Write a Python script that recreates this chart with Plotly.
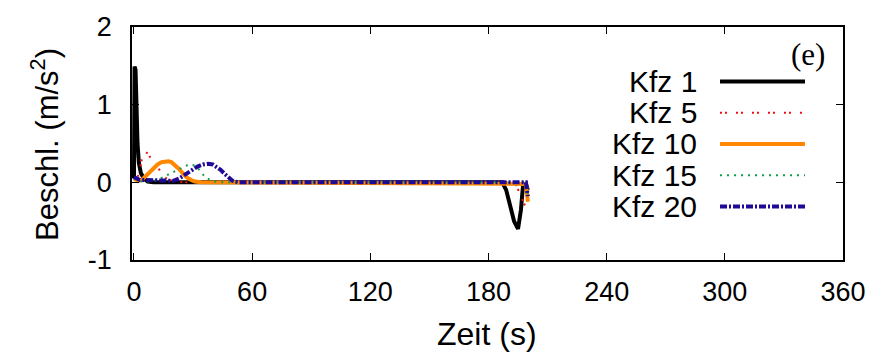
import plotly.graph_objects as go

# ---- data ----
t_kfz1 = [0, 0.3, 0.8, 1.3, 1.8, 2.5, 3.5, 5, 7, 10, 187, 189, 191, 193, 195, 196.5, 197.5, 199, 200]
a_kfz1 = [0.05, 1.49, 1.45, 0.9, 0.5, 0.25, 0.12, 0.05, 0.01, 0.0, 0.0, -0.1, -0.3, -0.5, -0.6, -0.35, -0.05, -0.02, -0.1]

t_kfz5 = [0, 1, 2, 3, 4, 5, 6, 7, 8, 9.5, 11.5, 13, 14.6, 17, 21, 25, 192, 194, 196, 197, 199, 200]
a_kfz5 = [0.05, 0.04, 0.08, 0.17, 0.3, 0.37, 0.39, 0.37, 0.33, 0.29, 0.22, 0.15, 0.09, 0.04, 0.01, 0.0, 0.0, -0.03, -0.15, -0.22, -0.33, -0.33]

t_kfz10 = [0, 2, 4, 6, 8, 10, 12, 14, 16, 17.5, 19, 21, 23, 25, 27, 29, 31, 34, 199, 200]
a_kfz10 = [0.05, 0.02, 0.03, 0.08, 0.14, 0.19, 0.23, 0.26, 0.27, 0.27, 0.26, 0.22, 0.17, 0.11, 0.06, 0.03, 0.01, 0.0, -0.02, -0.25]

t_kfz15 = [0, 4, 8, 12, 15, 18, 21, 24, 27, 29, 31.5, 33.5, 35.7, 38, 41, 45, 199, 200]
a_kfz15 = [0.05, 0.01, 0.01, 0.03, 0.07, 0.11, 0.15, 0.19, 0.22, 0.23, 0.21, 0.15, 0.08, 0.04, 0.01, 0.0, 0.0, -0.15]

t_kfz20 = [0, 3, 6, 10, 15, 20, 23, 26, 29, 32, 35, 37.7, 40, 42, 44, 46, 48, 50, 53, 199, 200]
a_kfz20 = [0.07, 0.03, 0.03, 0.03, 0.02, 0.02, 0.05, 0.1, 0.15, 0.2, 0.23, 0.24, 0.23, 0.2, 0.16, 0.11, 0.06, 0.02, 0.0, 0.0, -0.18]

series_names = ["Kfz 1", "Kfz 5", "Kfz 10", "Kfz 15", "Kfz 20"]
x_ticks = [0, 60, 120, 180, 240, 300, 360]
y_ticks = [-1, 0, 1, 2]

# ---- styles ----
styles = [
    dict(color="#000000", width=4, dash="solid"),
    dict(color="#ee1111", width=2, dash="2px,3px,2px,9px"),
    dict(color="#ff8800", width=4, dash="solid"),
    dict(color="#12a04a", width=2, dash="2px,5px"),
    dict(color="#1e0a96", width=4, dash="7px,2px,2px,2px"),
]
series_t = [t_kfz1, t_kfz5, t_kfz10, t_kfz15, t_kfz20]
series_a = [a_kfz1, a_kfz5, a_kfz10, a_kfz15, a_kfz20]

FONT = "Liberation Sans, Arial, sans-serif"

fig = go.Figure()
for name, tt, aa, st in zip(series_names, series_t, series_a, styles):
    fig.add_trace(go.Scatter(x=tt, y=aa, mode="lines", name=name, line=st,
                             showlegend=False))

# plot area in pixels
L, R, T, B = 132, 843, 21, 260
W, H = 881, 356
def px(xp):
    return (xp - L) / (R - L)
def py(yp):
    return (B - yp) / (B - T)

# manual legend (text right, sample on the right side)
rows = [77, 109, 141, 173, 205]
for name, st, yr in zip(series_names, styles, rows):
    fig.add_annotation(x=px(699), y=py(yr), xref="paper", yref="paper",
                       text=name, showarrow=False, xanchor="right", yanchor="middle",
                       font=dict(family=FONT, size=30, color="black"))
    fig.add_shape(type="line", xref="paper", yref="paper",
                  x0=px(720), x1=px(805), y0=py(yr), y1=py(yr),
                  line=dict(color=st["color"], width=st["width"], dash=st["dash"]))

fig.add_annotation(x=px(808), y=py(49), xref="paper", yref="paper", text="(e)",
                   showarrow=False, xanchor="center", yanchor="middle",
                   font=dict(family="Liberation Serif, Times New Roman, serif", size=31, color="black"))

# axis titles
fig.add_annotation(x=px(487), y=py(336), xref="paper", yref="paper", text="Zeit (s)",
                   showarrow=False, xanchor="center", yanchor="middle",
                   font=dict(family=FONT, size=32, color="black"))
fig.add_annotation(x=px(45), y=py(142), xref="paper", yref="paper",
                   text="Beschl. (m/s<sup>2</sup>)", textangle=-90,
                   showarrow=False, xanchor="center", yanchor="middle",
                   font=dict(family=FONT, size=31, color="black"))

axis_common = dict(showgrid=False, zeroline=False, showline=True, linecolor="black",
                   linewidth=1.5, mirror="allticks", ticks="inside", ticklen=7,
                   tickwidth=1.3, tickcolor="black",
                   tickfont=dict(family=FONT, size=27, color="black"))

fig.update_xaxes(range=[-1, 360], tickvals=x_ticks, ticktext=[str(v) for v in x_ticks],
                 ticklabelstandoff=7, **axis_common)
fig.update_yaxes(range=[-1, 2], tickvals=y_ticks, ticktext=[str(v) for v in y_ticks],
                 ticklabelstandoff=13, **axis_common)

fig.update_layout(width=W, height=H, autosize=False,
                  margin=dict(l=L, r=W - R, t=T, b=H - B, pad=0),
                  paper_bgcolor="white", plot_bgcolor="white",
                  showlegend=False)

fig.write_html("out.html")
